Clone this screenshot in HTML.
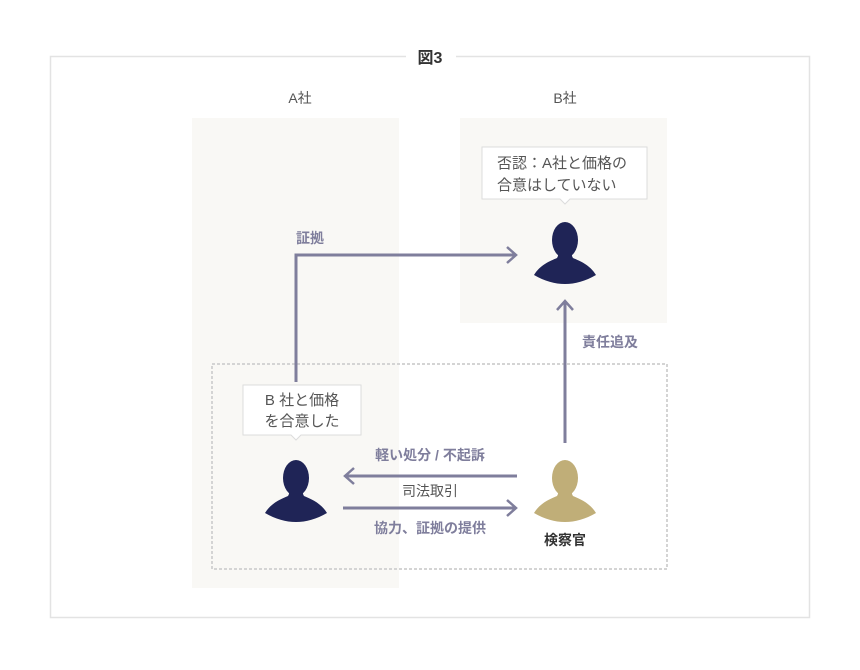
<!DOCTYPE html>
<html><head><meta charset="utf-8"><style>
html,body{margin:0;padding:0;background:#fff;}
svg{display:block;font-family:"Liberation Sans","Noto Sans CJK JP",sans-serif;}
</style></head><body>
<svg width="860" height="670" viewBox="0 0 860 670" xmlns="http://www.w3.org/2000/svg">
<defs>
<g id="person">
<ellipse cx="0" cy="0" rx="13" ry="18"/>
<path d="M-31,35 C-25,25 -15,21 -8,18 C-6,15 -7,12 -8,8 L8,8 C7,12 6,15 8,18 C15,21 25,25 31,35 C10,47 -10,47 -31,35 Z"/>
</g>
</defs>
<rect x="50.5" y="56.5" width="759" height="561" fill="none" stroke="#e3e3e3" stroke-width="1.5"/>
<rect x="406" y="48" width="50" height="18" fill="#fff"/>
<text x="430" y="63" text-anchor="middle" font-size="16" font-weight="bold" fill="#333">図3</text>
<text x="300" y="103" text-anchor="middle" font-size="14" fill="#555">A社</text>
<text x="565" y="103" text-anchor="middle" font-size="14" fill="#555">B社</text>
<rect x="192" y="118" width="207" height="470" fill="#f9f8f5"/>
<rect x="460" y="118" width="207" height="205" fill="#f9f8f5"/>
<rect x="212" y="364" width="455" height="205" fill="none" stroke="#d4d4d4" stroke-width="2" stroke-dasharray="3,2"/>
<path d="M482,147 H647 V199 H570 L565,204 L560,199 H482 Z" fill="#fff" stroke="#dcdcdc"/>
<text x="497" y="168" font-size="15" fill="#555">否認：A社と価格の</text>
<text x="497" y="190" font-size="15" fill="#555">合意はしていない</text>
<path d="M243,385 H361 V435 H301 L296,440 L291,435 H243 Z" fill="#fff" stroke="#dcdcdc"/>
<text x="302" y="405" text-anchor="middle" font-size="15" fill="#555">B 社と価格</text>
<text x="302" y="426" text-anchor="middle" font-size="15" fill="#555">を合意した</text>
<g stroke="#7f7e9c" stroke-width="3" fill="none">
<path d="M296,382 V255 H515"/>
<path d="M507,247 L516,255 L507,263" stroke-width="2.5"/>
<path d="M565,443 V302"/>
<path d="M557,310 L565,301 L573,310" stroke-width="2.5"/>
<path d="M517,476 H346"/>
<path d="M354,468 L345,476 L354,484" stroke-width="2.5"/>
<path d="M343,508 H515"/>
<path d="M507,500 L516,508 L507,516" stroke-width="2.5"/>
</g>
<text x="310" y="243" text-anchor="middle" font-size="14" font-weight="bold" fill="#7f7e9c">証拠</text>
<text x="610" y="347" text-anchor="middle" font-size="14" font-weight="bold" fill="#7f7e9c">責任追及</text>
<text x="430" y="460" text-anchor="middle" font-size="14" font-weight="bold" fill="#7f7e9c">軽い処分 / 不起訴</text>
<text x="430" y="496" text-anchor="middle" font-size="14" fill="#555">司法取引</text>
<text x="430" y="533" text-anchor="middle" font-size="14" font-weight="bold" fill="#7f7e9c">協力、証拠の提供</text>
<use href="#person" x="565" y="240" fill="#1f2456"/>
<use href="#person" x="296" y="478" fill="#1f2456"/>
<use href="#person" x="565" y="478" fill="#c0ae78"/>
<text x="565" y="545" text-anchor="middle" font-size="14" font-weight="bold" fill="#333">検察官</text>
</svg>
</body></html>
